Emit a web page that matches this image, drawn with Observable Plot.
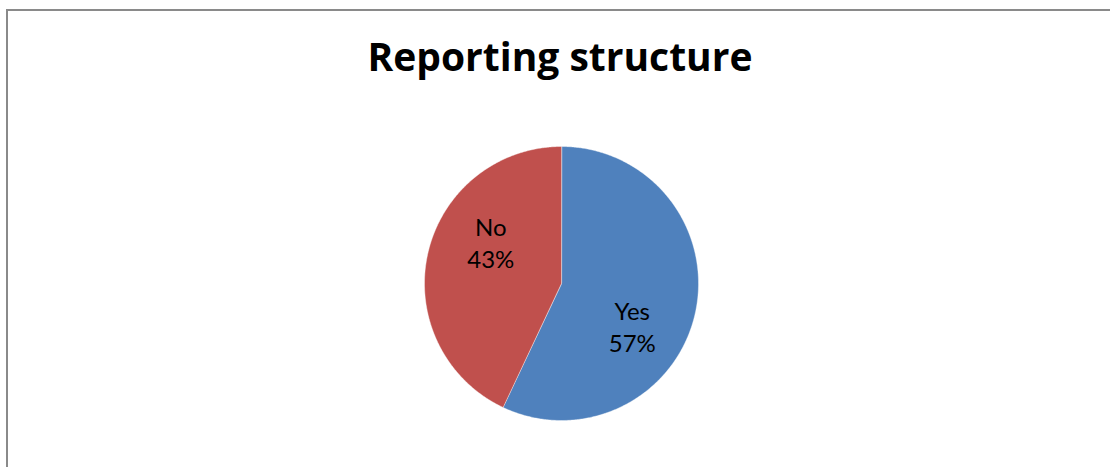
<!DOCTYPE html>
<html>
<head>
<meta charset="utf-8">
<script src="https://cdn.jsdelivr.net/npm/d3@7"></script>
<script src="https://cdn.jsdelivr.net/npm/@observablehq/plot@0.6"></script>
<style>
  html, body { margin: 0; padding: 0; background: #fff; }
  #wrap { position: relative; width: 1110px; height: 467px; overflow: hidden; background: #fff; }
  #topline { position: absolute; left: 6px; top: 9px; width: 1104px; height: 2px; background: #8a8a8a; }
  #leftline { position: absolute; left: 6px; top: 9px; width: 2px; height: 458px; background: #8a8a8a; }
  #title { position: absolute; left: 0; top: 36px; width: 1120px; text-align: center;
           font-family: "Open Sans", Lato, sans-serif; font-weight: bold; font-size: 39px; line-height: 1; color: #000; }
  #chart { position: absolute; left: 0; top: 120px; }
</style>
</head>
<body>
<div id="wrap">
  <div id="topline"></div>
  <div id="leftline"></div>
  <div id="title">Reporting structure</div>
  <div id="chart"></div>
</div>
<script>
const categories = ["Yes", "No"];
const values = [57, 43];
const colors = ["#4F81BD", "#C0504D"];

const W = 1110, H = 347;
const R = 137, cx = 561, cy = 163;

const pie = d3.pie().sort(null).value(d => d.value)(categories.map((c, i) => ({label: c, value: values[i]})));

// polygon outline for each slice (unit radius, angle clockwise from top)
const rows = [];
for (const a of pie) {
  rows.push({label: a.data.label, x: 0, y: 0});
  const n = Math.max(2, Math.ceil((a.endAngle - a.startAngle) / (Math.PI / 360)));
  for (let k = 0; k <= n; k++) {
    const t = a.startAngle + (a.endAngle - a.startAngle) * k / n;
    rows.push({label: a.data.label, x: Math.sin(t), y: Math.cos(t)});
  }
}
const labelShift = 18 * Math.PI / 180;
const labels = pie.map(a => {
  const m = (a.startAngle + a.endAngle) / 2 + labelShift;
  return {label: a.data.label, text: a.data.label + "\n" + Math.round(a.data.value / d3.sum(values) * 100) + "%",
          x: 0.6 * Math.sin(m), y: 0.6 * Math.cos(m)};
});

const plot = Plot.plot({
  width: W, height: H,
  margin: 0,
  x: {domain: [-cx / R, (W - cx) / R], axis: null},
  y: {domain: [-(H - cy) / R, cy / R], axis: null},
  color: {domain: categories, range: colors},
  style: {background: "transparent"},
  marks: [
    Plot.line(rows, {x: "x", y: "y", z: "label", fill: "label", stroke: "#ffffff", strokeOpacity: 0.5, strokeWidth: 0.8, curve: "linear-closed"}),
    Plot.text(labels, {x: "x", y: "y", text: "text", fontSize: 24, lineHeight: 1.33, fill: "#000",
      fontFamily: "Lato, 'Open Sans', sans-serif"})
  ]
});
document.getElementById("chart").appendChild(plot);
</script>
</body>
</html>
